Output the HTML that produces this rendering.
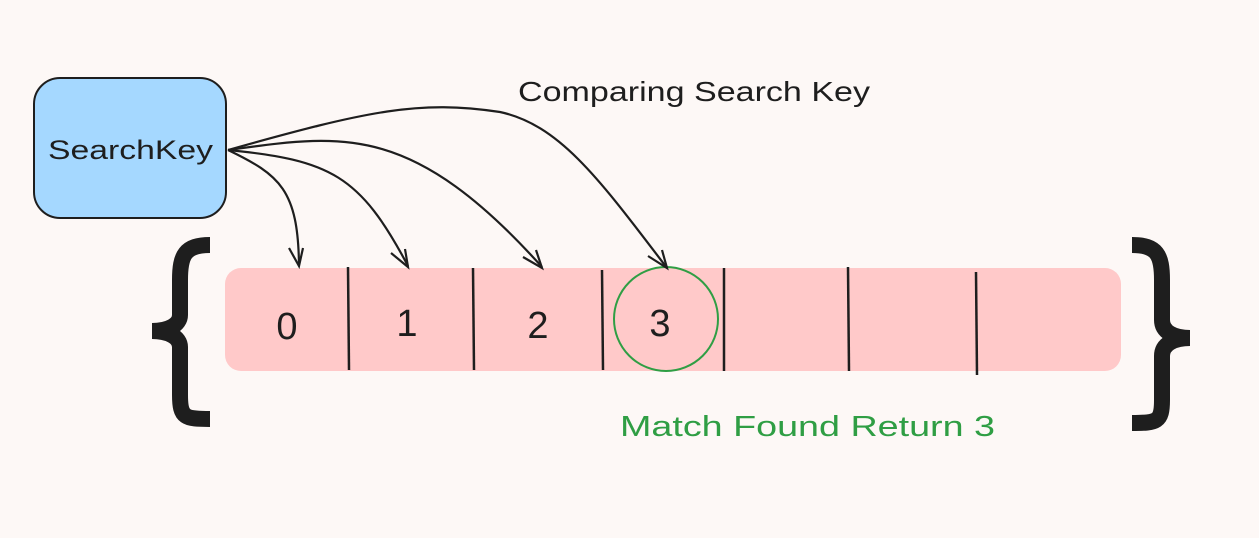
<!DOCTYPE html>
<html><head><meta charset="utf-8"><style>
html,body{margin:0;padding:0;background:#fdf8f6;}
svg{display:block;}
text{font-family:"Liberation Sans",sans-serif;}
</style></head><body>
<svg width="1259" height="538" viewBox="0 0 1259 538" xmlns="http://www.w3.org/2000/svg">
<rect width="1259" height="538" fill="#fdf8f6"/>
<rect x="34" y="78" width="192" height="140" rx="26" fill="#a5d8ff" stroke="#1e1e1e" stroke-width="2"/>
<text x="48" y="159" font-size="27" textLength="165" lengthAdjust="spacingAndGlyphs" fill="#1e1e1e">SearchKey</text>
<text x="518" y="101" font-size="28" textLength="352" lengthAdjust="spacingAndGlyphs" fill="#1e1e1e">Comparing Search Key</text>
<rect x="225" y="268" width="896" height="103" rx="16" fill="#ffc9c9"/>
<g stroke="#1e1e1e" stroke-width="2.5">
<line x1="348" y1="267" x2="349" y2="370"/>
<line x1="473" y1="268" x2="474" y2="370"/>
<line x1="602" y1="270" x2="603" y2="370"/>
<line x1="724" y1="268" x2="724" y2="371"/>
<line x1="848" y1="267" x2="849" y2="371"/>
<line x1="976" y1="272" x2="977" y2="375"/>
</g>
<g font-size="38" fill="#1e1e1e" text-anchor="middle">
<text x="287" y="339">0</text><text x="407" y="336">1</text><text x="538" y="338">2</text><text x="660" y="336">3</text>
</g>
<ellipse cx="666" cy="319" rx="52" ry="52" fill="none" stroke="#2f9e44" stroke-width="2"/>
<text x="620" y="436" font-size="29" textLength="375" lengthAdjust="spacingAndGlyphs" fill="#2f9e44">Match Found Return 3</text>
<g fill="none" stroke="#1e1e1e" stroke-width="2.2">
<path d="M228,150 C280,175 298,190 299,265"/>
<path d="M228,150 C330,160 360,175 408,266"/>
<path d="M228,150 C340,135 410,120 542,267"/>
<path d="M228,150 C370,110 420,100 500,112 C560,125 600,180 667,268"/>
<path d="M289,248 L299,266 L303,248"/>
<path d="M391,253 L408,267 L405,249"/>
<path d="M523,257 L542,268 L536,250"/>
<path d="M648,256 L667,268 L662,250"/>
</g>
<g fill="none" stroke="#1e1e1e" stroke-width="16">
<path d="M210,245 C185,245 180,255 180,280 L180,315 C180,325 168,331 152,331 C168,331 180,337 180,347 L180,395 C180,418 185,419 210,419"/>
<path d="M1132,245 C1157,245 1162,255 1162,280 L1162,320 C1162,332 1174,338 1190,338 C1174,338 1162,344 1162,356 L1162,400 C1162,422 1157,423 1132,423"/>
</g>
</svg>
</body></html>
